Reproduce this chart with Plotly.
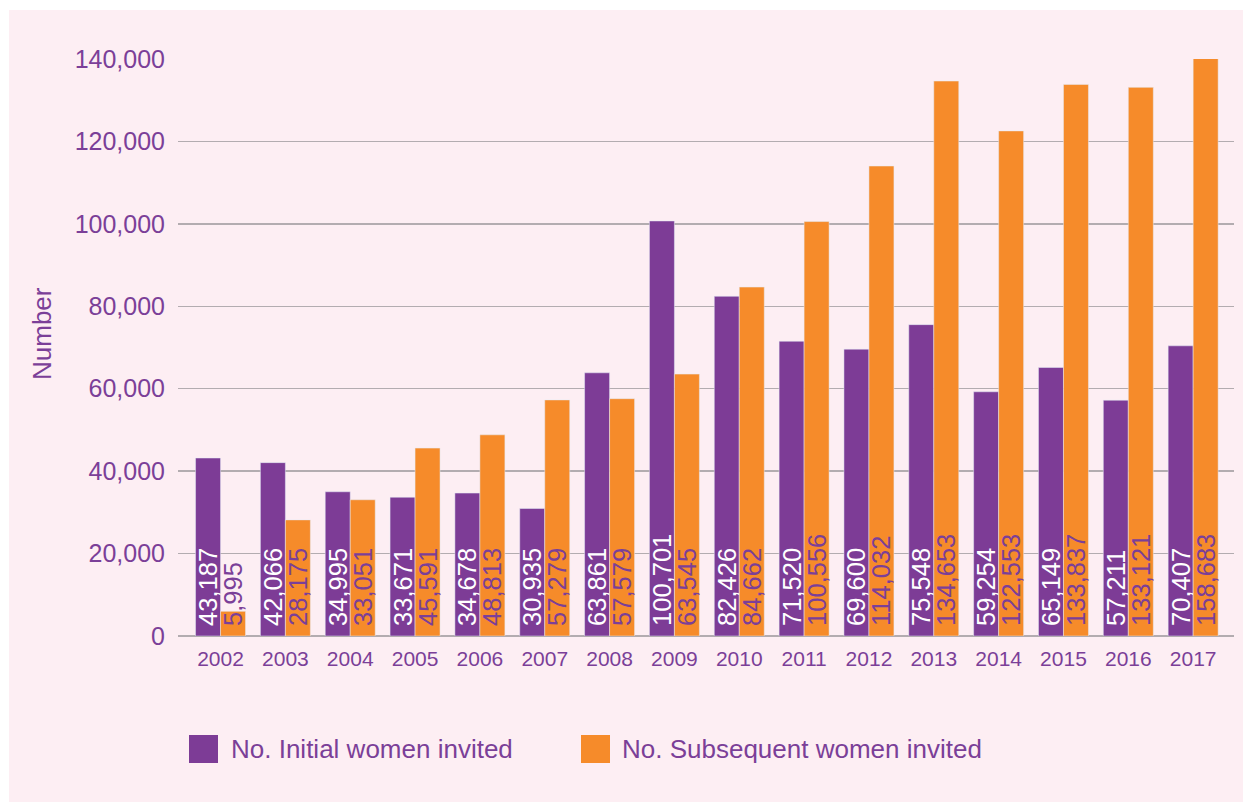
import plotly.graph_objects as go

years = ["2002", "2003", "2004", "2005", "2006", "2007", "2008", "2009",
         "2010", "2011", "2012", "2013", "2014", "2015", "2016", "2017"]
initial = [43187, 42066, 34995, 33671, 34678, 30935, 63861, 100701,
           82426, 71520, 69600, 75548, 59254, 65149, 57211, 70407]
subsequent = [5995, 28175, 33051, 45591, 48813, 57279, 57579, 63545,
              84662, 100556, 114032, 134653, 122553, 133837, 133121, 158683]
y_ticks = [0, 20000, 40000, 60000, 80000, 100000, 120000, 140000]
series_names = ["No. Initial women invited", "No. Subsequent women invited"]

PURPLE = "#7d3c96"
ORANGE = "#f68b2a"
TEXT = "#7b3f98"
PINK = "#fdeef3"
GRID = "#b3acb0"
FONT = "Liberation Sans, Arial, sans-serif"

W, H = 1243, 802
L, T = 178, 59
R = W - 1234
B = H - 636
PW, PH = W - L - R, H - T - B


def px(x):
    return (x - L) / PW


def py(y):
    return (H - B - y) / PH


def fmt(v):
    return "\u00a0" + f"{v:,}"


fig = go.Figure()
fig.add_trace(go.Bar(
    x=years, y=initial, name=series_names[0], marker_color=PURPLE,
    text=[fmt(v) for v in initial], textposition="inside",
    insidetextanchor="start", textangle=-90, constraintext="none",
    insidetextfont=dict(color="white", size=25.5, family=FONT),
    showlegend=False, hoverinfo="skip",
))
fig.add_trace(go.Bar(
    x=years, y=subsequent, name=series_names[1], marker_color=ORANGE,
    text=[fmt(v) for v in subsequent], textposition="inside",
    insidetextanchor="start", textangle=-90, constraintext="none",
    insidetextfont=dict(color=TEXT, size=25.5, family=FONT),
    showlegend=False, hoverinfo="skip",
))

shapes = [
    # white page strips at top and left of the pink panel
    dict(type="rect", xref="paper", yref="paper", x0=px(-20), x1=px(9),
         y0=py(830), y1=py(-20), fillcolor="white", line_width=0, layer="below"),
    dict(type="rect", xref="paper", yref="paper", x0=px(-20), x1=px(1270),
         y0=py(10), y1=py(-20), fillcolor="white", line_width=0, layer="below"),
    dict(type="rect", xref="paper", yref="paper", x0=px(189), x1=px(218),
         y0=py(763), y1=py(735), fillcolor=PURPLE, line_width=0),
    dict(type="rect", xref="paper", yref="paper", x0=px(581), x1=px(610),
         y0=py(763), y1=py(735), fillcolor=ORANGE, line_width=0),
]
annotations = [
    dict(text="Number", xref="paper", yref="paper", x=px(42), y=py(334),
         textangle=-90, showarrow=False, xanchor="center", yanchor="middle",
         font=dict(size=26, color=TEXT, family=FONT)),
    dict(text=series_names[0], xref="paper", yref="paper", x=px(229), y=py(749),
         showarrow=False, xanchor="left", yanchor="middle",
         font=dict(size=26, color=TEXT, family=FONT)),
    dict(text=series_names[1], xref="paper", yref="paper", x=px(620), y=py(749),
         showarrow=False, xanchor="left", yanchor="middle",
         font=dict(size=26, color=TEXT, family=FONT)),
]

fig.update_layout(
    width=W, height=H,
    margin=dict(l=L, r=R, t=T, b=B, pad=0),
    paper_bgcolor=PINK,
    plot_bgcolor="rgba(0,0,0,0)",
    barmode="group", bargap=0.229, bargroupgap=0,
    showlegend=False,
    shapes=shapes, annotations=annotations,
    font=dict(family=FONT, color=TEXT),
    xaxis=dict(
        type="category", range=[-0.656, 15.63], showgrid=False,
        showline=False, zeroline=False, ticks="",
        tickfont=dict(size=21, color=TEXT, family=FONT),
        ticklabelstandoff=8, fixedrange=True,
    ),
    yaxis=dict(
        range=[0, 140000], tickvals=y_ticks,
        ticktext=[f"{v:,}" for v in y_ticks],
        showgrid=True, gridcolor=GRID, gridwidth=1.5,
        zeroline=True, zerolinecolor=GRID, zerolinewidth=1.5,
        showline=False, ticks="",
        tickfont=dict(size=25, color=TEXT, family=FONT),
        ticklabelstandoff=12, fixedrange=True,
    ),
)

fig.write_html(
    "out.html",
    config={"displayModeBar": False, "staticPlot": True},
    post_script="document.body.style.margin='0';document.body.style.overflow='hidden';",
)
